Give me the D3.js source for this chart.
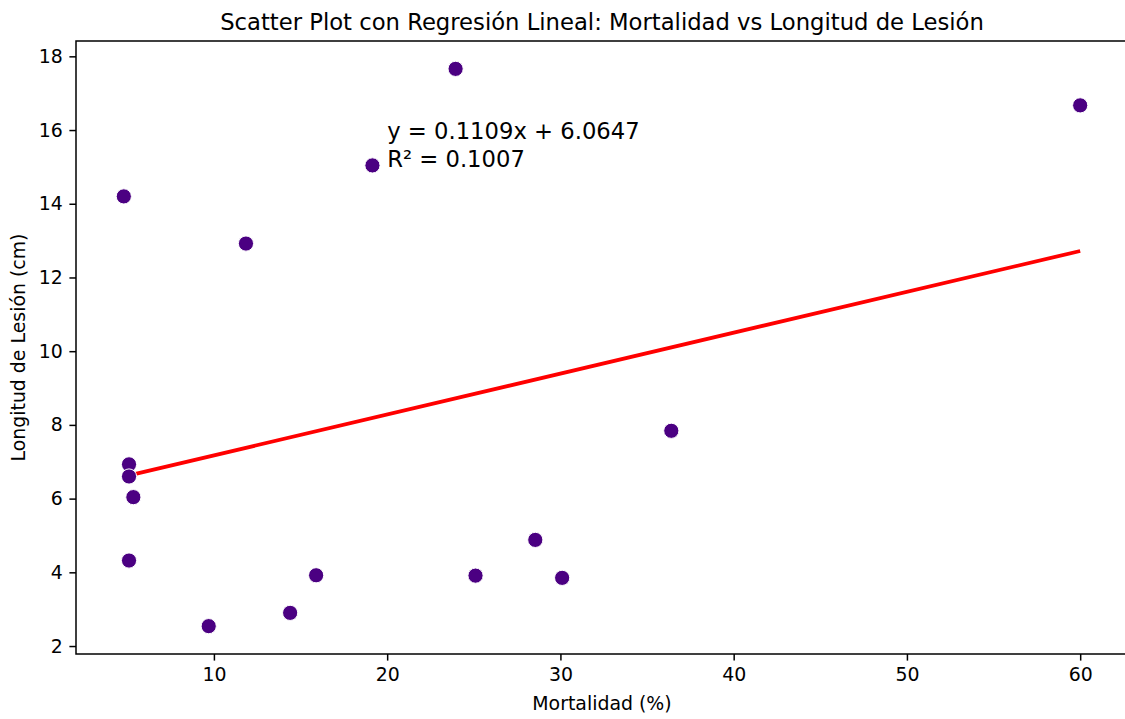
<!DOCTYPE html>
<html><head><meta charset="utf-8">
<script src="https://cdn.jsdelivr.net/npm/d3@7"></script>
<style>body{margin:0;background:#fff;overflow:hidden}svg{display:block}text{font-family:"DejaVu Sans",sans-serif;fill:#000}</style>
</head><body>
<svg id="c" width="1125" height="719"></svg>
<script>
const mortalidad = [4.8, 5.1, 5.1, 5.35, 5.1, 9.7, 11.85, 14.4, 15.9, 19.15, 23.95, 25.1, 28.55, 30.1, 36.4, 60.0];
const longitud   = [14.2, 6.93, 6.6, 6.04, 4.32, 2.54, 12.92, 2.9, 3.92, 15.04, 17.66, 3.91, 4.88, 3.85, 7.84, 16.67];
const slope = 0.1109, intercept = 6.0647, r2 = 0.1007;
const xTicks = [10, 20, 30, 40, 50, 60];
const yTicks = [2, 4, 6, 8, 10, 12, 14, 16, 18];
const title = "Scatter Plot con Regresión Lineal: Mortalidad vs Longitud de Lesión";
const xLabel = "Mortalidad (%)", yLabel = "Longitud de Lesión (cm)";

const svg = d3.select("#c");
const m = {l:76, r:1128, t:41, b:654};
const xe = d3.extent(mortalidad), ye = d3.extent(longitud);
const xp = (xe[1]-xe[0])*0.05, yp = (ye[1]-ye[0])*0.05;
const x = d3.scaleLinear().domain([xe[0]-xp, xe[1]+xp]).range([m.l, m.r]);
const y = d3.scaleLinear().domain([ye[0]-yp, ye[1]+yp]).range([m.b, m.t]);

const tickFont = 18.9;
const gx = svg.append("g").attr("transform",`translate(0,${m.b})`)
  .call(d3.axisBottom(x).tickValues(xTicks).tickSize(6.6).tickPadding(6.6).tickFormat(d3.format("d")));
const gy = svg.append("g").attr("transform",`translate(${m.l},0)`)
  .call(d3.axisLeft(y).tickValues(yTicks).tickSize(6.6).tickPadding(6.6).tickFormat(d3.format("d")));
[gx, gy].forEach(g => {
  g.select(".domain").remove();
  g.selectAll(".tick line").attr("stroke","#000").attr("stroke-width",1.5);
  g.selectAll(".tick text").attr("font-size",tickFont).attr("font-family","DejaVu Sans").attr("fill","#000");
});

svg.append("rect").attr("x",m.l).attr("y",m.t).attr("width",m.r-m.l).attr("height",m.b-m.t)
  .attr("fill","none").attr("stroke","#000").attr("stroke-width",1.5);

const x0 = xe[0], x1 = xe[1];
svg.append("line").attr("x1",x(x0)).attr("y1",y(slope*x0+intercept))
  .attr("x2",x(x1)).attr("y2",y(slope*x1+intercept))
  .attr("stroke","#ff0000").attr("stroke-width",3.8);

svg.selectAll("circle.pt").data(mortalidad.map((d,i)=>[d,longitud[i]])).enter()
  .append("circle").attr("class","pt").attr("cx",d=>x(d[0])).attr("cy",d=>y(d[1]))
  .attr("r",7.6).attr("fill","#4b0082").attr("stroke","#fff").attr("stroke-width",1);

const annSize = 22.7;
const ann = svg.append("text").attr("x",x(20)).attr("y",y(15)).attr("font-size",annSize);
ann.append("tspan").attr("x",x(20)).attr("dy",-28).text(`y = ${slope.toFixed(4)}x + ${intercept.toFixed(4)}`);
ann.append("tspan").attr("x",x(20)).attr("dy",28).text(`R² = ${r2.toFixed(4)}`);

svg.append("text").attr("x",(m.l+m.r)/2).attr("y",29.5).attr("text-anchor","middle").attr("font-size",22.7).text(title);
svg.append("text").attr("x",(m.l+m.r)/2).attr("y",710).attr("text-anchor","middle").attr("font-size",18.9).text(xLabel);
svg.append("text").attr("transform",`translate(25,${(m.t+m.b)/2}) rotate(-90)`).attr("text-anchor","middle").attr("font-size",18.9).text(yLabel);
</script>
</body></html>
